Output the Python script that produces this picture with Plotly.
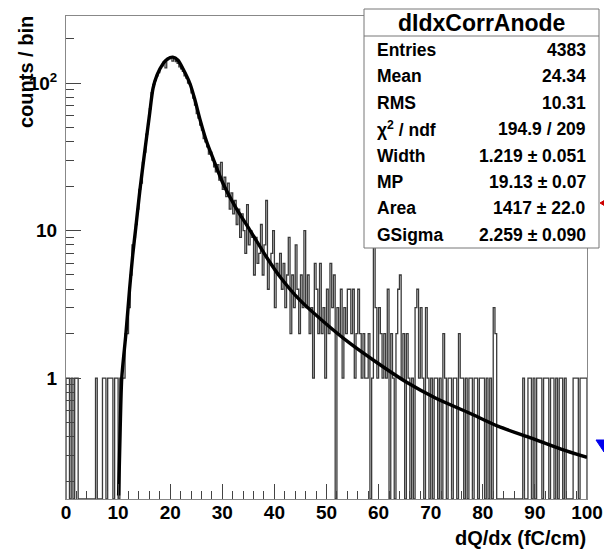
import plotly.graph_objects as go

# ---------------- data ----------------
bin_width = 1.0 / 3.0   # 300 bins over 0..100
counts = [
    1, 1, 0, 1, 0, 1, 1, 0, 0, 0,                    # 0.00 - 3.33
    0, 0, 0, 0, 0, 0, 0, 1, 0, 0,                    # 3.33 - 6.67
    0, 1, 1, 0, 1, 1, 1, 0, 1, 1,                    # 6.67 - 10.0
    0, 1, 1, 1, 2, 2, 3, 5, 8, 9,                    # 10.0 - 13.33
    11, 14, 19, 21, 29, 34, 45, 53, 67, 86,          # 13.33 - 16.67
    98, 104, 112, 118, 127, 131, 140, 127, 144, 146, # 16.67 - 20.0
    150, 141, 149, 140, 136, 129, 125, 120, 112, 108,  # 20.0 - 23.33
    100, 98, 86, 79, 71, 62, 58, 52, 48, 42,         # 23.33 - 26.67
    40, 37, 33, 34, 30, 27, 25, 28, 22, 29,          # 26.67 - 30.0
    19, 23, 17, 21, 14, 18, 13, 16, 11, 14,          # 30.0 - 33.33
    9, 13, 10, 7, 15, 8, 10, 9, 5, 9,                # 33.33 - 36.67
    6, 7, 11, 5, 8, 16, 4, 6, 7, 10,                 # 36.67 - 40.0
    3, 6, 5, 7, 4, 6, 3, 5, 9, 2,                    # 40.0 - 43.33
    5, 3, 8, 4, 2, 5, 3, 10, 3, 5,                   # 43.33 - 46.67
    2, 3, 1, 6, 4, 2, 6, 2, 3, 1,                    # 46.67 - 50.0
    4, 2, 6, 3, 5, 0, 3, 2, 4, 1,                    # 50.0 - 53.33
    3, 2, 4, 4, 2, 4, 1, 2, 4, 2,                    # 53.33 - 56.67
    1, 2, 1, 1, 2, 0, 1, 8, 3, 1,                    # 56.67 - 60.0
    3, 2, 1, 2, 1, 4, 0, 2, 1, 0,                    # 60.0 - 63.33
    2, 4, 5, 1, 2, 0, 2, 1, 0, 1,                    # 63.33 - 66.67
    0, 3, 4, 1, 3, 1, 0, 3, 1, 0,                    # 66.67 - 70.0
    1, 0, 1, 1, 0, 1, 0, 2, 1, 0,                    # 70.0 - 73.33
    1, 1, 0, 1, 1, 0, 2, 1, 1, 0,                    # 73.33 - 76.67
    1, 0, 1, 1, 0, 1, 1, 0, 1, 1,                    # 76.67 - 80.0
    1, 0, 1, 0, 1, 0, 3, 2, 0, 0,                    # 80.0 - 83.33
    0, 0, 0, 0, 0, 0, 0, 0, 0, 0,                    # 83.33 - 86.67
    0, 0, 0, 1, 0, 0, 1, 1, 0, 1,                    # 86.67 - 90.0
    0, 1, 1, 1, 0, 1, 1, 1, 0, 1,                    # 90.0 - 93.33
    1, 0, 1, 0, 1, 1, 0, 1, 0, 0,                    # 93.33 - 96.67
    0, 0, 1, 1, 1, 0, 1, 1, 1, 1,                    # 96.67 - 100.0
]

fit_x = [10.1, 10.4, 10.7, 11.5, 12.2, 12.8, 13.4, 14.2, 15.0, 16.0,
         16.7, 17.5, 18.6, 19.5, 20.5, 21.5, 22.5, 23.8, 24.7, 25.7,
         27.0, 28.2, 30.1, 32.5, 35.2, 38.5, 41.0, 44.8, 49.5, 54.4,
         60.0, 65.3, 71.0, 77.4, 83.0, 89.5, 95.0, 100.0]
fit_y = [0.16, 0.45, 1.0, 2.0, 4.0, 6.8, 10.5, 19.0, 32.0, 60.0,
         92.0, 114.0, 135.0, 146.0, 150.0, 143.0, 124.0, 99.0, 78.0, 57.0,
         40.0, 31.0, 21.0, 14.5, 10.2, 6.6, 4.9, 3.4, 2.4, 1.73,
         1.25, 0.94, 0.73, 0.58, 0.47, 0.39, 0.33, 0.29]

x_tickvals = [0, 10, 20, 30, 40, 50, 60, 70, 80, 90, 100]
y_tickvals = [1, 10, 100]
y_ticktext = ["1", "10", "10<sup>2</sup>"]
y_minor = [0.2, 0.3, 0.4, 0.5, 0.6, 0.7, 0.8, 0.9,
           2, 3, 4, 5, 6, 7, 8, 9, 20, 30, 40, 50, 60, 70, 80, 90, 200]

stats_title = "dIdxCorrAnode"
stats_labels = ["Entries", "Mean", "RMS", "χ<sup>2</sup> / ndf", "Width", "MP", "Area", "GSigma"]
stats_values = ["4383", "24.34", "10.31", "194.9 / 209", "1.219 ± 0.051",
                "19.13 ± 0.07", "1417 ± 22.0", "2.259 ± 0.090"]

# ---------------- geometry ----------------
W, H = 604, 550
L, R, T, B = 66, 587, 16, 499   # frame in pixels
ylog_min, ylog_max = -0.82, 2.455
floor = 10 ** ylog_min
FONT = "Liberation Sans, Arial, Helvetica, sans-serif"


def px(xp):
    return (xp - L) / (R - L)


def py(yp):
    return (B - yp) / (B - T)


# histogram step outline
n = len(counts)
edges = [i * bin_width for i in range(n + 1)]
hx = [0.0] + edges[:n] + [edges[n], edges[n]]
hy = [floor] + [max(c, floor) for c in counts] + [max(counts[-1], floor), floor]

fig = go.Figure()
fig.add_trace(go.Scatter(x=hx, y=hy, mode="lines",
                         line=dict(color="#3a3a3a", width=1.3, shape="hv"),
                         hoverinfo="skip", showlegend=False))
fig.add_trace(go.Scatter(x=fit_x, y=fit_y, mode="lines",
                         line=dict(color="black", width=3.4, shape="spline", smoothing=0.7),
                         hoverinfo="skip", showlegend=False))

tickfont = dict(family=FONT, size=19, color="black", weight="bold")

fig.update_layout(
    width=W, height=H,
    margin=dict(l=L, r=W - R, t=T, b=H - B, autoexpand=False),
    paper_bgcolor="white", plot_bgcolor="white",
    showlegend=False,
    xaxis=dict(range=[0, 100], tickvals=x_tickvals, ticks="inside", ticklen=15,
               tickcolor="#444", tickwidth=1, showgrid=False, zeroline=False,
               showline=True, linecolor="#888", linewidth=1, mirror=True,
               tickfont=tickfont, ticklabelstandoff=-4, automargin=False,
               minor=dict(dtick=2, ticks="inside", ticklen=8, tickcolor="#444", showgrid=False)),
    yaxis=dict(type="log", range=[ylog_min, ylog_max], tickvals=y_tickvals, ticktext=y_ticktext,
               ticks="inside", ticklen=15, tickcolor="#444", tickwidth=1,
               showgrid=False, zeroline=False, automargin=False,
               showline=True, linecolor="#888", linewidth=1, mirror=True,
               tickfont=tickfont, ticklabelstandoff=4,
               minor=dict(tickvals=y_minor, ticks="inside", ticklen=8, tickcolor="#444", showgrid=False)),
)

annotations = []
shapes = []

# axis titles
annotations.append(dict(text="dQ/dx (fC/cm)", xref="paper", yref="paper",
                        x=px(588), y=py(538), xanchor="right", yanchor="middle",
                        showarrow=False, font=dict(family=FONT, size=20, color="black", weight="bold")))
annotations.append(dict(text="counts / bin", xref="paper", yref="paper",
                        x=px(26), y=py(14), xanchor="center", yanchor="top", textangle=-90,
                        showarrow=False, font=dict(family=FONT, size=20, color="black", weight="bold")))

# stats box
bx0, bx1, by0, by1 = 364, 599, 9, 248
shapes.append(dict(type="rect", xref="paper", yref="paper",
                   x0=px(bx0), x1=px(bx1), y0=py(by1), y1=py(by0),
                   line=dict(color="#777", width=1), fillcolor="white", layer="above"))
shapes.append(dict(type="line", xref="paper", yref="paper",
                   x0=px(bx0), x1=px(bx1), y0=py(36), y1=py(36),
                   line=dict(color="#777", width=1), layer="above"))
annotations.append(dict(text=stats_title, xref="paper", yref="paper",
                        x=px((bx0 + bx1) / 2), y=py(23), xanchor="center", yanchor="middle",
                        showarrow=False, font=dict(family=FONT, size=23, color="black", weight="bold")))
row_y0, row_dy = 50, 26.4
for i, (lab, val) in enumerate(zip(stats_labels, stats_values)):
    yy = row_y0 + i * row_dy
    annotations.append(dict(text=lab, xref="paper", yref="paper", x=px(375), y=py(yy),
                            xanchor="left", yanchor="middle", showarrow=False,
                            font=dict(family=FONT, size=17.5, color="black", weight="bold")))
    annotations.append(dict(text=val, xref="paper", yref="paper", x=px(588), y=py(yy),
                            xanchor="right", yanchor="middle", showarrow=False,
                            font=dict(family=FONT, size=17.5, color="black", weight="bold")))

# small markers at the right edge
shapes.append(dict(type="path", xref="paper", yref="paper",
                   path=f"M {px(600)},{py(203)} L {px(605)},{py(200)} L {px(605)},{py(206)} Z",
                   fillcolor="#cc0000", line=dict(color="#cc0000", width=1), layer="above"))
shapes.append(dict(type="path", xref="paper", yref="paper",
                   path=f"M {px(596)},{py(440)} L {px(605)},{py(440)} L {px(604)},{py(452)} Z",
                   fillcolor="#0000ee", line=dict(color="#0000ee", width=1), layer="above"))

fig.update_layout(annotations=annotations, shapes=shapes)
fig.write_html("out.html")
